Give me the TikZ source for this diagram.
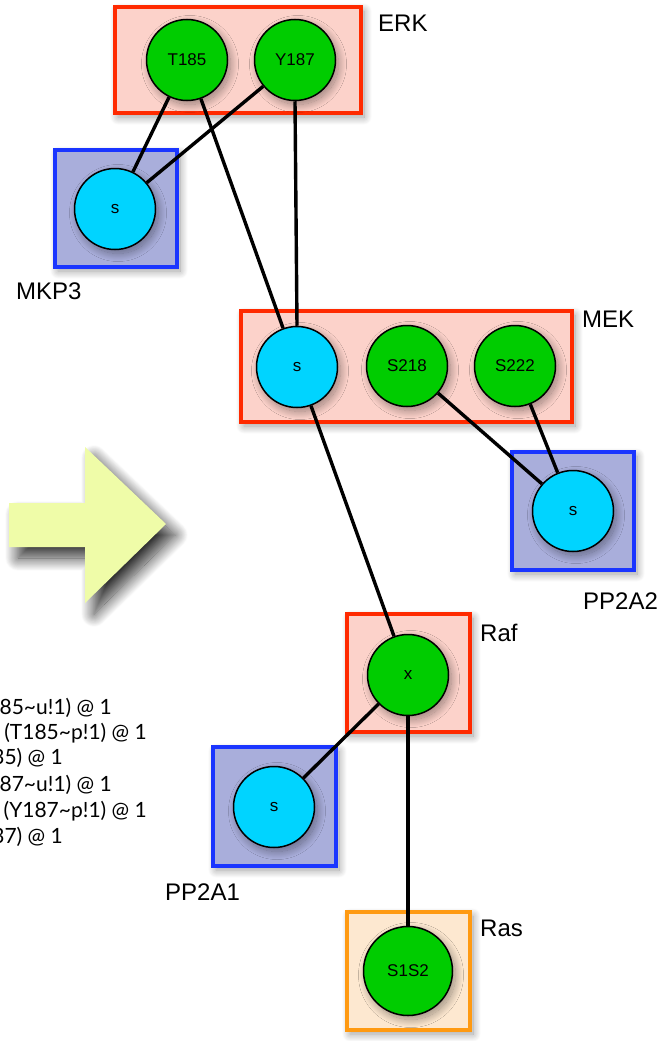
\documentclass[tikz,border=0pt]{standalone}
\usepackage{fontspec}
\setmainfont{Liberation Sans}
\newfontfamily\gillfont{Lato}
\usetikzlibrary{shadows.blur}
\definecolor{boxred}{HTML}{FF2A00}
\definecolor{fillred}{HTML}{FCD2CA}
\definecolor{boxblue}{HTML}{1A35FF}
\definecolor{fillblue}{HTML}{A9AEDB}
\definecolor{boxorange}{HTML}{FF9A12}
\definecolor{fillorange}{HTML}{FDE8D0}
\definecolor{sitegreen}{HTML}{00CC00}
\definecolor{sitecyan}{HTML}{00D4FF}
\definecolor{arrowfill}{HTML}{EFFCA8}
\tikzset{
  sh/.style={blur shadow={shadow xshift=3pt, shadow yshift=-4pt, shadow blur radius=8pt, shadow blur steps=24, shadow opacity=40}},
  molbox/.style={draw=#1, line width=3.2pt, sh},
  site/.style={circle, draw=black, line width=1.5pt, minimum size=81pt, inner sep=0pt, font=\fontsize{17}{17}\selectfont, sh},
  greensite/.style={site, fill=sitegreen},
  cyansite/.style={site, fill=sitecyan},
  link/.style={line width=3.4pt, black},
  lbl/.style={anchor=west, inner sep=0pt, font=\fontsize{24}{24}\selectfont},
  rule/.style={anchor=east, inner sep=0pt, font=\gillfont\fontsize{21}{21}\selectfont}
}
\begin{document}
\begin{tikzpicture}[x=1pt, y=-1pt]
\useasboundingbox (0,0) rectangle (670,1041);
% boxes
\path[molbox=boxred, fill=fillred] (115,7) rectangle (361,113);
\path[molbox=boxblue, fill=fillblue] (55,150) rectangle (177,267);
\path[molbox=boxred, fill=fillred] (241,311) rectangle (572,422);
\path[molbox=boxblue, fill=fillblue] (512,452) rectangle (634,570);
\path[molbox=boxred, fill=fillred] (347,614) rectangle (470,732);
\path[molbox=boxblue, fill=fillblue] (213,747) rectangle (336,866);
\path[molbox=boxorange, fill=fillorange] (347,912) rectangle (470,1030);
% arrow
\path[fill=arrowfill, blur shadow={shadow xshift=9pt, shadow yshift=-11pt, shadow blur radius=13pt, shadow blur steps=24, shadow opacity=80}]
  (9,503) -- (85,503) -- (85,447) -- (166,524) -- (85,603) -- (85,547) -- (9,547) -- cycle;
% sites
\node[greensite] (t185) at (187,60) {T185};
\node[greensite] (y187) at (295,60) {Y187};
\node[cyansite] (mkp3s) at (115,209) {s};
\node[cyansite] (meks) at (297,367) {s};
\node[greensite] (s218) at (407,366) {S218};
\node[greensite] (s222) at (515,366) {S222};
\node[cyansite] (pp2s) at (573,511) {s};
\node[greensite] (rafx) at (408,675) {x};
\node[cyansite] (pp1s) at (274,807) {s};
\node[greensite, minimum size=89pt] (ras) at (408,971) {S1S2};
% labels
\node[lbl] (lerk) at (378,23) {ERK};
\node[lbl] (lmkp) at (16,291) {MKP3};
\node[lbl] (lmek) at (582,319) {MEK};
\node[lbl] (lpp2) at (583,601) {PP2A2};
\node[lbl] (lraf) at (480,633) {Raf};
\node[lbl] (lpp1) at (165,892) {PP2A1};
\node[lbl] (lras) at (480,928) {Ras};
% rules
\node[rule] (r1) at (112,708) {85\string~u!1) @ 1};
\node[rule] (r2) at (147,733) {(T185\string~p!1) @ 1};
\node[rule] (r3) at (63,758) {35) @ 1};
\node[rule] (r4) at (112,785) {87\string~u!1) @ 1};
\node[rule] (r5) at (147,811) {(Y187\string~p!1) @ 1};
\node[rule] (r6) at (63,837) {37) @ 1};
% links
\draw[link] (t185) -- (mkp3s);
\draw[link] (y187) -- (mkp3s);
\draw[link] (t185) -- (meks);
\draw[link] (y187.south) -- (meks.north);
\draw[link] (meks) -- (rafx);
\draw[link] (s218) -- (pp2s);
\draw[link] (s222) -- (pp2s);
\draw[link] (rafx) -- (pp1s);
\draw[link] (rafx) -- (ras);
\end{tikzpicture}
\end{document}
